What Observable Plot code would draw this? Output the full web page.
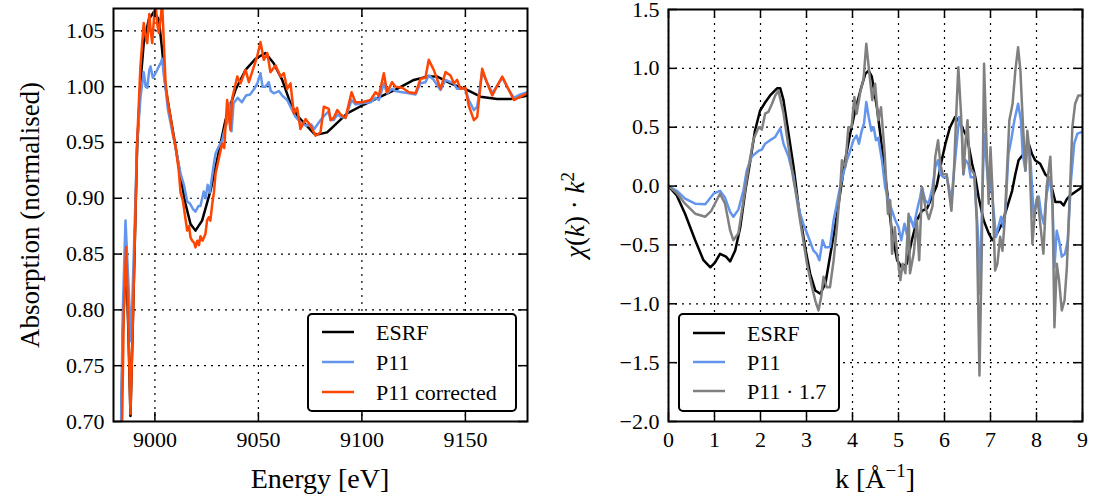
<!DOCTYPE html>
<html><head><meta charset="utf-8">
<script src="https://cdn.jsdelivr.net/npm/d3@7"></script>
<script src="https://cdn.jsdelivr.net/npm/@observablehq/plot@0.6"></script>
<style>
body{margin:0;background:#fff;}
#wrap{display:flex;width:1093px;height:501px;background:#fff;}
svg{display:block;}
</style></head><body><div id="wrap"></div>
<script>
// ---------- Left panel data: absorption vs energy ----------
const esrfE = [8983,8984.5,8986,8987.2,8988.2,8989.5,8991.4,8993,8994.6,8997,8999.5,9001.9,9003.5,9005.1,9007.5,9010,9012.4,9014.8,9017.2,9019.6,9022.8,9026.9,9030,9034.1,9038.9,9043.8,9048.6,9053.4,9057.4,9061.5,9065.5,9068.7,9072.8,9076.8,9078.4,9083.2,9092.9,9101,9109,9117,9125.1,9131.5,9136.4,9142.8,9150.8,9157.3,9165.3,9171.8,9180];
const esrfMu = [0.62,0.78,0.85,0.78,0.705,0.80,0.945,1.003,1.039,1.060,1.067,1.060,1.033,1.000,0.973,0.946,0.919,0.895,0.877,0.871,0.880,0.907,0.934,0.970,0.997,1.015,1.025,1.030,1.021,1.006,0.985,0.974,0.966,0.958,0.957,0.959,0.976,0.984,0.991,0.998,1.006,1.009,1.009,1.003,0.997,0.991,0.989,0.989,0.992];

const p11E = [8983,8984.5,8985.8,8986.8,8988.5,8989.8,8991.4,8993,8993.9,8994.6,8995.5,8996.3,8997.3,8997.9,8999,9000.3,9001.9,9003,9003.5,9004.3,9005.1,9006.3,9007.5,9010,9012.4,9014,9015.6,9017,9018.5,9019.6,9021,9022,9023.6,9024.5,9025.5,9026.5,9028.5,9029.3,9030.5,9032.5,9034,9035,9036,9037,9038,9040,9042,9044,9046,9048,9049.5,9051,9052,9053.4,9055,9056,9057.4,9059.9,9061.5,9063.9,9065.5,9067.9,9069.4,9071,9073,9075.5,9077,9080,9082.4,9084,9085,9086.4,9088.1,9089.7,9092.1,9095,9096.9,9100.1,9104.2,9106.6,9108.2,9110.6,9112.2,9114.6,9116.2,9119.5,9122.7,9125.9,9128.3,9130.7,9132.3,9134.7,9138,9140.4,9142.8,9144.4,9146,9147.6,9150,9151.6,9154.1,9155.7,9158.1,9163,9167.8,9171,9173.4,9176.6,9180];
const p11Mu = [0.62,0.80,0.880,0.84,0.772,0.85,0.949,0.990,1.003,1.013,1.000,0.999,1.015,1.018,1.008,1.012,1.018,1.022,1.025,1.010,1.000,0.979,0.968,0.945,0.922,0.912,0.897,0.895,0.890,0.888,0.893,0.893,0.906,0.900,0.912,0.905,0.931,0.940,0.945,0.952,0.964,0.968,0.985,0.960,0.985,0.990,0.986,0.992,0.993,0.998,1.003,1.012,1.000,1.000,1.004,0.996,0.994,0.996,0.992,0.988,0.982,0.973,0.970,0.967,0.965,0.966,0.962,0.970,0.975,0.978,0.970,0.970,0.975,0.973,0.972,0.988,0.984,0.985,0.986,0.990,0.988,1.003,0.994,0.998,0.996,0.995,0.994,0.993,1.003,1.004,1.010,1.006,0.997,1.006,1.004,1.003,0.998,0.998,0.998,0.988,0.979,0.982,1.013,0.994,1.008,0.997,0.990,0.993,0.995];

const p11cE = [8983.5,8985,8986.1,8987,8988.2,8989.5,8991.4,8993,8994.6,8995.5,8996.3,8997.3,8998,8998.7,8999.5,9000.3,9001.2,9001.9,9003,9003.5,9004.3,9005.1,9006.3,9007.5,9009,9010,9011.5,9012.4,9013.5,9014.5,9015.6,9016.5,9017.2,9018,9019,9019.6,9020.5,9021.3,9022,9023,9024.4,9025.2,9026,9026.8,9027.7,9028.5,9029.3,9030.8,9032.5,9033.5,9034.9,9036.5,9037.3,9039.8,9041.4,9043.8,9045.4,9047.8,9049.4,9051,9052.6,9054.3,9055.8,9058.3,9060.7,9062.3,9063.9,9065.5,9067.1,9068.7,9070.3,9072.8,9075.2,9077.6,9080,9081.6,9084,9084.8,9086.4,9088.1,9089.7,9092.1,9095,9096.9,9100.1,9104.2,9106.6,9108.2,9110.6,9112.2,9114.6,9116.2,9119.5,9122.7,9125.9,9128.3,9130.7,9132.3,9134.7,9138,9140.4,9142.8,9144.4,9146,9147.6,9150,9151.6,9154.1,9155.7,9158.1,9160.5,9163,9165.4,9167.8,9171,9173.4,9176.6,9179.9];
const p11cMu = [0.62,0.80,0.856,0.80,0.707,0.80,0.950,1.018,1.057,1.045,1.039,1.065,1.050,1.039,1.060,1.075,1.055,1.048,1.065,1.075,1.040,1.005,0.985,0.973,0.955,0.946,0.925,0.905,0.898,0.885,0.871,0.875,0.865,0.862,0.860,0.856,0.862,0.858,0.866,0.862,0.868,0.880,0.883,0.880,0.895,0.905,0.922,0.935,0.949,0.945,0.988,0.961,0.989,1.009,1.003,1.015,1.004,1.018,1.027,1.040,1.024,1.030,1.013,1.019,1.009,1.012,0.998,1.003,0.976,0.981,0.962,0.971,0.965,0.956,0.959,0.982,0.980,0.970,0.972,0.979,0.975,0.972,0.995,0.986,0.986,0.988,0.995,0.992,1.012,0.995,1.004,1.000,0.999,0.995,0.994,1.007,1.008,1.024,1.015,0.998,1.013,1.010,1.003,1.006,0.998,0.999,0.983,0.970,0.973,1.016,1.003,0.992,1.001,1.009,0.997,0.988,0.991,0.994];

const leftXTicks = [9000, 9050, 9100, 9150];
const leftYTicks = [0.70, 0.75, 0.80, 0.85, 0.90, 0.95, 1.00, 1.05];
const leftNames = ["ESRF", "P11", "P11 corrected"];
const leftColors = ["#000000", "#6495ed", "#ff4500"];

// ---------- Right panel data: chi(k)*k^2 ----------
const esrfK = [0,0.18,0.36,0.58,0.76,0.91,1.01,1.12,1.25,1.34,1.45,1.56,1.67,1.78,1.88,1.99,2.10,2.21,2.36,2.43,2.50,2.61,2.72,2.83,2.97,3.08,3.19,3.30,3.41,3.51,3.62,3.73,3.84,3.95,4.06,4.17,4.28,4.35,4.42,4.53,4.64,4.75,4.86,4.97,5.07,5.18,5.29,5.40,5.51,5.62,5.73,5.83,5.94,6.02,6.12,6.23,6.30,6.38,6.49,6.60,6.67,6.74,6.85,6.96,7.04,7.13,7.25,7.36,7.47,7.54,7.61,7.72,7.83,7.90,7.97,8.08,8.19,8.26,8.33,8.41,8.52,8.59,8.66,8.73,8.84,8.95,9.0];
const esrfChi = [0,-0.08,-0.235,-0.46,-0.63,-0.69,-0.65,-0.575,-0.60,-0.64,-0.547,-0.35,-0.04,0.22,0.47,0.64,0.71,0.77,0.83,0.83,0.73,0.445,0.16,-0.18,-0.52,-0.745,-0.887,-0.915,-0.83,-0.60,-0.35,-0.065,0.22,0.445,0.645,0.81,0.955,0.98,0.93,0.67,0.33,-0.037,-0.405,-0.63,-0.69,-0.66,-0.46,-0.29,-0.21,-0.19,-0.09,0.0,0.22,0.36,0.50,0.587,0.56,0.50,0.417,0.19,0.075,-0.09,-0.29,-0.40,-0.46,-0.41,-0.32,-0.18,-0.04,0.10,0.22,0.275,0.36,0.275,0.22,0.19,0.10,0.075,-0.01,-0.135,-0.135,-0.165,-0.11,-0.08,-0.05,-0.02,0.0];

const p11K = [0,0.18,0.36,0.58,0.80,0.98,1.12,1.23,1.34,1.41,1.52,1.63,1.70,1.81,1.96,2.03,2.10,2.21,2.32,2.43,2.50,2.61,2.72,2.75,2.86,2.93,3.04,3.15,3.22,3.28,3.35,3.41,3.51,3.59,3.66,3.73,3.80,3.88,3.95,4.02,4.09,4.14,4.20,4.25,4.30,4.35,4.41,4.46,4.51,4.56,4.64,4.71,4.78,4.86,4.93,5.00,5.06,5.13,5.18,5.25,5.33,5.40,5.47,5.51,5.58,5.65,5.74,5.80,5.86,5.91,5.98,6.05,6.15,6.20,6.25,6.32,6.38,6.41,6.46,6.52,6.57,6.65,6.73,6.76,6.81,6.86,6.92,6.97,7.01,7.06,7.12,7.17,7.23,7.28,7.33,7.39,7.45,7.52,7.60,7.66,7.70,7.76,7.81,7.87,7.94,8.00,8.05,8.10,8.16,8.22,8.30,8.35,8.39,8.44,8.49,8.55,8.62,8.68,8.75,8.82,8.89,8.99];
const p11Chi = [0,-0.04,-0.107,-0.15,-0.155,-0.065,-0.04,-0.10,-0.22,-0.26,-0.20,-0.035,0.13,0.25,0.30,0.31,0.36,0.39,0.417,0.49,0.36,0.25,0.08,-0.01,-0.235,-0.32,-0.43,-0.547,-0.575,-0.63,-0.46,-0.52,-0.52,-0.29,-0.15,-0.01,0.105,0.22,0.30,0.39,0.43,0.36,0.47,0.53,0.715,0.59,0.47,0.50,0.39,0.41,0.22,-0.01,-0.12,-0.21,-0.29,-0.35,-0.46,-0.32,-0.41,-0.26,-0.35,-0.21,-0.095,-0.01,-0.12,-0.15,-0.01,0.16,0.22,0.10,0.075,0.075,-0.12,0.10,0.30,0.587,0.47,0.10,0.22,0.19,0.075,0.075,-0.43,-0.915,-0.29,0.445,0.16,-0.065,0.10,-0.18,-0.43,-0.35,-0.26,-0.35,-0.18,0.275,0.39,0.56,0.70,0.56,0.275,0.13,0.39,0.22,-0.26,-0.12,-0.09,-0.235,-0.32,-0.065,0.075,-0.18,-0.69,-0.38,-0.46,-0.60,-0.575,-0.46,0.05,0.36,0.445,0.46];

const p11sK = [0,0.18,0.36,0.58,0.80,0.93,1.12,1.23,1.34,1.41,1.52,1.63,1.74,1.85,1.96,2.03,2.10,2.17,2.25,2.32,2.39,2.50,2.61,2.72,2.75,2.86,2.93,3.01,3.12,3.19,3.26,3.32,3.37,3.44,3.51,3.59,3.66,3.73,3.77,3.84,3.91,3.98,4.04,4.09,4.17,4.24,4.30,4.36,4.43,4.49,4.56,4.62,4.70,4.77,4.82,4.86,4.92,4.97,5.04,5.09,5.15,5.22,5.25,5.33,5.40,5.45,5.51,5.59,5.66,5.74,5.80,5.86,5.91,5.96,6.05,6.15,6.20,6.25,6.30,6.36,6.41,6.46,6.50,6.55,6.65,6.70,6.76,6.81,6.86,6.92,6.96,7.00,7.04,7.10,7.15,7.21,7.26,7.31,7.37,7.41,7.48,7.54,7.60,7.65,7.70,7.76,7.80,7.84,7.91,7.97,8.02,8.08,8.15,8.22,8.30,8.35,8.39,8.44,8.49,8.55,8.61,8.66,8.73,8.78,8.84,8.91,8.99];
const p11sChi = [0,-0.06,-0.15,-0.235,-0.26,-0.21,-0.065,-0.15,-0.377,-0.46,-0.40,-0.12,0.16,0.40,0.50,0.48,0.615,0.63,0.70,0.77,0.81,0.62,0.33,0.045,-0.01,-0.29,-0.46,-0.66,-0.86,-0.97,-1.057,-0.94,-0.77,-0.86,-0.86,-0.63,-0.35,-0.04,0.22,0.16,0.50,0.50,0.757,0.615,0.80,0.91,1.21,0.98,0.73,0.87,0.56,0.67,0.275,-0.235,-0.12,-0.575,-0.35,-0.575,-0.80,-0.66,-0.74,-0.235,-0.74,-0.575,-0.29,-0.63,-0.01,-0.19,-0.28,-0.17,0.25,0.39,0.19,0.10,0.10,-0.21,0.075,0.56,1.01,0.61,0.10,0.39,0.56,0.16,0.10,-0.29,-1.61,-0.57,1.04,0.275,-0.15,0.33,-0.01,-0.717,-0.66,-0.43,-0.55,-0.29,0.22,0.56,0.70,0.98,1.18,0.98,0.56,0.13,0.47,0.33,-0.49,-0.21,-0.09,-0.32,-0.575,-0.01,0.25,-0.18,-1.20,-0.66,-0.80,-1.057,-0.97,-0.69,-0.01,0.50,0.70,0.77,0.77];

const rightXTicks = [0,1,2,3,4,5,6,7,8,9];
const rightYTicks = [-2.0,-1.5,-1.0,-0.5,0.0,0.5,1.0,1.5];
const rightNames = ["ESRF", "P11", "P11 \u00b7 1.7"];
const rightColors = ["#000000", "#6495ed", "#808080"];

// ---------- helpers ----------
const rows = (xs, ys) => xs.map((x, i) => ({x, y: ys[i]}));
const FONT = "'Liberation Serif', 'DejaVu Serif', serif";
const dotted = {stroke: "black", strokeOpacity: 1, strokeWidth: 1.2, strokeDasharray: "2,5"};
const TICK = 9;
const LW = 2.5;

function panel({width, height, mL, mR, mT, mB, xDom, yDom, xTicks, yTicks, yFmt, xFmt, series}) {
  const iw = width - mL - mR, ih = height - mT - mB;
  return Plot.plot({
    width, height, marginLeft: mL, marginRight: mR, marginTop: mT, marginBottom: mB,
    x: {domain: xDom}, y: {domain: yDom},
    style: {fontFamily: FONT, fontSize: "22px", color: "black", background: "white", overflow: "visible"},
    marks: [
      Plot.gridX(xTicks, dotted),
      Plot.gridY(yTicks, dotted),
      ...series.map(s => Plot.line(s.data, {x: "x", y: "y", stroke: s.color, strokeWidth: LW, clip: true})),
      Plot.tickX(xTicks, {x: d => d, insetTop: ih - TICK, stroke: "black", strokeWidth: 1.5}),
      Plot.tickX(xTicks, {x: d => d, insetBottom: ih - TICK, stroke: "black", strokeWidth: 1.5}),
      Plot.tickY(yTicks, {y: d => d, insetRight: iw - TICK, stroke: "black", strokeWidth: 1.5}),
      Plot.tickY(yTicks, {y: d => d, insetLeft: iw - TICK, stroke: "black", strokeWidth: 1.5}),
      Plot.axisX(xTicks, {anchor: "bottom", tickSize: 0, tickPadding: 10, label: null, tickFormat: xFmt}),
      Plot.axisY(yTicks, {anchor: "left", tickSize: 0, tickPadding: 9, label: null, tickFormat: yFmt}),
      Plot.frame({stroke: "black", strokeWidth: 2})
    ]
  });
}

function legend(svg, {x0, y0, w, h, names, colors, lineX0, lineX1, textX, rowsY}) {
  const g = d3.select(svg).append("g").attr("text-anchor", "start");
  g.append("rect").attr("x", x0).attr("y", y0).attr("width", w).attr("height", h)
    .attr("rx", 4).attr("fill", "white").attr("stroke", "black").attr("stroke-width", 2);
  names.forEach((n, i) => {
    g.append("line").attr("x1", lineX0).attr("x2", lineX1).attr("y1", rowsY[i]).attr("y2", rowsY[i])
      .attr("stroke", colors[i]).attr("stroke-width", LW);
    g.append("text").attr("x", textX).attr("y", rowsY[i]).attr("dy", "0.35em")
      .attr("text-anchor", "start")
      .attr("font-family", FONT).attr("font-size", 22).attr("fill", "black").text(n);
  });
}

const wrap = document.getElementById("wrap");

// Left panel
const left = panel({
  width: 546, height: 501, mL: 113, mR: 19, mT: 8, mB: 80,
  xDom: [8980, 9180], yDom: [0.70, 1.07], xTicks: leftXTicks, yTicks: leftYTicks,
  xFmt: d3.format("d"), yFmt: d3.format(".2f"),
  series: [
    {data: rows(esrfE, esrfMu), color: leftColors[0]},
    {data: rows(p11E, p11Mu), color: leftColors[1]},
    {data: rows(p11cE, p11cMu), color: leftColors[2]}
  ]
});
wrap.appendChild(left);
legend(left, {x0: 308, y0: 314, w: 208, h: 97, names: leftNames, colors: leftColors,
  lineX0: 322, lineX1: 354, textX: 376, rowsY: [332, 362, 392]});
d3.select(left).append("text").attr("transform", "translate(30,215) rotate(-90)")
  .attr("text-anchor", "middle").attr("dy", "0.35em").attr("font-family", FONT).attr("font-size", 27)
  .text("Absorption (normalised)");
d3.select(left).append("text").attr("x", 320).attr("y", 488)
  .attr("text-anchor", "middle").attr("font-family", FONT).attr("font-size", 28)
  .text("Energy [eV]");

// Right panel
const right = panel({
  width: 547, height: 501, mL: 122, mR: 11, mT: 9, mB: 80,
  xDom: [0, 9], yDom: [-2.0, 1.5], xTicks: rightXTicks, yTicks: rightYTicks,
  xFmt: d3.format("d"), yFmt: d3.format(".1f"),
  series: [
    {data: rows(esrfK, esrfChi), color: rightColors[0]},
    {data: rows(p11K, p11Chi), color: rightColors[1]},
    {data: rows(p11sK, p11sChi), color: rightColors[2]}
  ]
});
wrap.appendChild(right);
legend(right, {x0: 133, y0: 314, w: 160, h: 97, names: rightNames, colors: rightColors,
  lineX0: 147, lineX1: 179, textX: 201, rowsY: [333, 362, 391]});
const yl = d3.select(right).append("text").attr("transform", "translate(29,215) rotate(-90)")
  .attr("text-anchor", "middle").attr("dy", "0.35em").attr("font-family", FONT).attr("font-size", 27);
yl.append("tspan").attr("font-style", "italic").text("\u03c7");
yl.append("tspan").text("(");
yl.append("tspan").attr("font-style", "italic").text("k");
yl.append("tspan").text(") \u00b7 ");
yl.append("tspan").attr("font-style", "italic").text("k");
yl.append("tspan").attr("font-size", 19).attr("dy", -10).text("2");
const xl = d3.select(right).append("text").attr("x", 329).attr("y", 488)
  .attr("text-anchor", "middle").attr("font-family", FONT).attr("font-size", 28);
xl.append("tspan").text("k [\u00c5");
xl.append("tspan").attr("font-size", 19).attr("dy", -11).text("\u22121");
xl.append("tspan").attr("dy", 11).text("]");
</script>
</body></html>
